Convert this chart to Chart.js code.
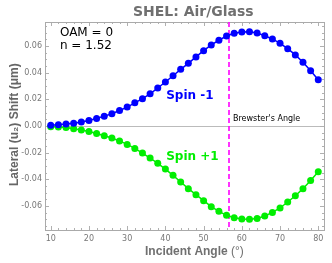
<!DOCTYPE html>
<html>
<head>
<meta charset="utf-8">
<script src="https://cdn.jsdelivr.net/npm/chart.js@4/dist/chart.umd.min.js"></script>
<style>
    html, body { margin: 0; padding: 0; background: #fff; }
    #wrap { width: 332px; height: 263px; }
</style>
</head>
<body>
<div id="wrap"><canvas id="chart"></canvas></div>
<script>
// incident angle (degrees)
const angles = [10, 12, 14, 16, 18, 20, 22, 24, 26, 28, 30, 32, 34, 36, 38, 40, 42, 44,
    46, 48, 50, 52, 54, 56, 58, 60, 62, 64, 66, 68, 70, 72, 74, 76, 78, 80];

// lateral shift (um)
const spinMinus = [0.0005, 0.001, 0.0015, 0.0021, 0.003, 0.0042, 0.0057, 0.0074, 0.0092, 0.0116,
    0.0142, 0.0174, 0.0205, 0.0241, 0.0285, 0.033, 0.0377, 0.0425, 0.047, 0.0518,
    0.0565, 0.0608, 0.0643, 0.0675, 0.0695, 0.0705, 0.0707, 0.0697, 0.0677, 0.0653,
    0.062, 0.058, 0.0533, 0.0478, 0.0415, 0.0347];
const spinPlus = [-0.0005, -0.0007, -0.0011, -0.002, -0.003, -0.0042, -0.0056, -0.0073, -0.009, -0.0112,
    -0.0138, -0.0168, -0.0203, -0.024, -0.028, -0.0323, -0.037, -0.042, -0.047, -0.0515,
    -0.056, -0.0605, -0.064, -0.067, -0.0688, -0.0698, -0.07, -0.0693, -0.0675, -0.0648,
    -0.0615, -0.057, -0.0523, -0.047, -0.0408, -0.0343];

const xTicks = [10, 20, 30, 40, 50, 60, 70, 80];
const yTicks = [-0.06, -0.04, -0.02, 0, 0.02, 0.04, 0.06];

const refractiveIndex = 1.52;
const brewster = 56.66;

const FONT = "'DejaVu Sans', Verdana, sans-serif";
const TITLE_FONT = "'Liberation Sans', Arial, sans-serif";
const GREY = '#777777';

const toPoints = ys => angles.map((a, i) => ({ x: a, y: ys[i] }));

// frame, inside ticks, zero line, Brewster line and text labels
const decorations = {
    id: 'decorations',
    beforeDatasetsDraw(chart) {
        const { ctx, chartArea: a, scales: { x, y } } = chart;
        ctx.save();
        // zero line
        ctx.strokeStyle = '#bbbbbb';
        ctx.lineWidth = 1;
        const y0 = Math.round(y.getPixelForValue(0)) + 0.5;
        ctx.beginPath();
        ctx.moveTo(a.left, y0);
        ctx.lineTo(a.right, y0);
        ctx.stroke();

        // minor / major ticks inside the frame
        ctx.strokeStyle = '#b0b0b0';
        for (let v = 10; v <= 80; v += 2) {
            const px = Math.round(x.getPixelForValue(v)) + 0.5;
            const len = v % 10 === 0 ? 4 : 2;
            ctx.beginPath();
            ctx.moveTo(px, a.bottom); ctx.lineTo(px, a.bottom - len);
            ctx.moveTo(px, a.top); ctx.lineTo(px, a.top + len);
            ctx.stroke();
        }
        for (let k = -15; k <= 15; k++) {
            const v = k * 0.005;
            const py = Math.round(y.getPixelForValue(v)) + 0.5;
            const len = k % 4 === 0 ? 4 : 2;
            ctx.beginPath();
            ctx.moveTo(a.left, py); ctx.lineTo(a.left + len, py);
            ctx.moveTo(a.right, py); ctx.lineTo(a.right - len, py);
            ctx.stroke();
        }

        // frame
        ctx.strokeStyle = '#aaaaaa';
        ctx.strokeRect(Math.round(a.left) + 0.5, Math.round(a.top) + 0.5,
            Math.round(a.right - a.left), Math.round(a.bottom - a.top));

        // Brewster's angle
        const bx = Math.round(x.getPixelForValue(brewster));
        ctx.strokeStyle = '#ff00ff';
        ctx.lineWidth = 1.6;
        ctx.setLineDash([5, 3]);
        ctx.beginPath();
        ctx.moveTo(bx, a.top);
        ctx.lineTo(bx, a.bottom);
        ctx.stroke();
        ctx.restore();
    },
    afterDatasetsDraw(chart) {
        const { ctx, chartArea: a, scales: { x, y } } = chart;
        const bx = Math.round(x.getPixelForValue(brewster));
        ctx.save();
        ctx.textBaseline = 'middle';

        // title
        ctx.fillStyle = '#707070';
        ctx.font = 'bold 14px ' + FONT;
        ctx.textAlign = 'center';
        ctx.fillText('SHEL: Air/Glass', x.getPixelForValue(47.3), 12);

        // y axis title
        ctx.save();
        ctx.translate(15, y.getPixelForValue(0.001));
        ctx.rotate(-Math.PI / 2);
        ctx.fillStyle = '#666666';
        ctx.font = 'bold 12px ' + TITLE_FONT;
        ctx.fillText('Lateral (u\u2082) Shift (\u03bcm)', 0, 0);
        ctx.restore();

        // x axis title: bold words, plain unit
        const xt = 'Incident Angle ', xu = '(°)';
        ctx.font = 'bold 12px ' + TITLE_FONT;
        const w1 = ctx.measureText(xt).width;
        ctx.font = '12px ' + TITLE_FONT;
        const w2 = ctx.measureText(xu).width;
        const cx = x.getPixelForValue(47.6) - (w1 + w2) / 2;
        ctx.textAlign = 'left';
        ctx.font = 'bold 12px ' + TITLE_FONT;
        ctx.fillText(xt, cx, 252);
        ctx.font = '12px ' + TITLE_FONT;
        ctx.fillText(xu, cx + w1, 252);

        ctx.fillStyle = '#000';
        ctx.font = '12px ' + FONT;
        ctx.fillText('OAM = 0', x.getPixelForValue(12.4), y.getPixelForValue(0.0702));
        ctx.fillText('n = ' + refractiveIndex.toFixed(2), x.getPixelForValue(12.4), y.getPixelForValue(0.06));

        ctx.font = '8px ' + FONT;
        ctx.fillText("Brewster's Angle", bx + 4, y.getPixelForValue(0.0053));

        ctx.font = 'bold 12px ' + FONT;
        ctx.fillStyle = '#0000ff';
        ctx.fillText('Spin -1', x.getPixelForValue(40.2), y.getPixelForValue(0.0228));
        ctx.fillStyle = '#00ee00';
        ctx.fillText('Spin +1', x.getPixelForValue(40.2), y.getPixelForValue(-0.0232));
        ctx.restore();
    }
};

new Chart(document.getElementById('chart'), {
    type: 'line',
    data: {
        datasets: [
            {
                label: 'Spin -1',
                data: toPoints(spinMinus),
                borderColor: '#0000ff',
                backgroundColor: '#0000ff',
                borderWidth: 1.5,
                pointRadius: 3.5,
                pointBorderWidth: 0,
                tension: 0
            },
            {
                label: 'Spin +1',
                data: toPoints(spinPlus),
                borderColor: '#00ee00',
                backgroundColor: '#00ee00',
                borderWidth: 1.5,
                pointRadius: 3.5,
                pointBorderWidth: 0,
                tension: 0
            }
        ]
    },
    options: {
        responsive: true,
        maintainAspectRatio: false,
        animation: false,
        layout: { padding: { top: 22, right: 8, left: 0, bottom: 0 } },
        plugins: {
            legend: { display: false },
            tooltip: { enabled: false },
            title: { display: false }
        },
        scales: {
            x: {
                type: 'linear',
                min: 8.5,
                max: 81.5,
                afterBuildTicks: s => { s.ticks = xTicks.map(v => ({ value: v })); },
                afterFit: s => { s.height = 33; },
                grid: { display: false, drawTicks: false },
                border: { display: false },
                ticks: {
                    color: GREY,
                    padding: 4,
                    maxRotation: 0,
                    font: { family: FONT, size: 8 }
                },
                title: { display: false }
            },
            y: {
                min: -0.078,
                max: 0.078,
                afterBuildTicks: s => { s.ticks = yTicks.map(v => ({ value: v })); },
                afterFit: s => { s.width = 45; },
                grid: { display: false, drawTicks: false },
                border: { display: false },
                ticks: {
                    color: GREY,
                    padding: 3,
                    font: { family: FONT, size: 8 },
                    callback: v => v.toFixed(2)
                },
                title: { display: false }
            }
        }
    },
    plugins: [decorations]
});
</script>
</body>
</html>
